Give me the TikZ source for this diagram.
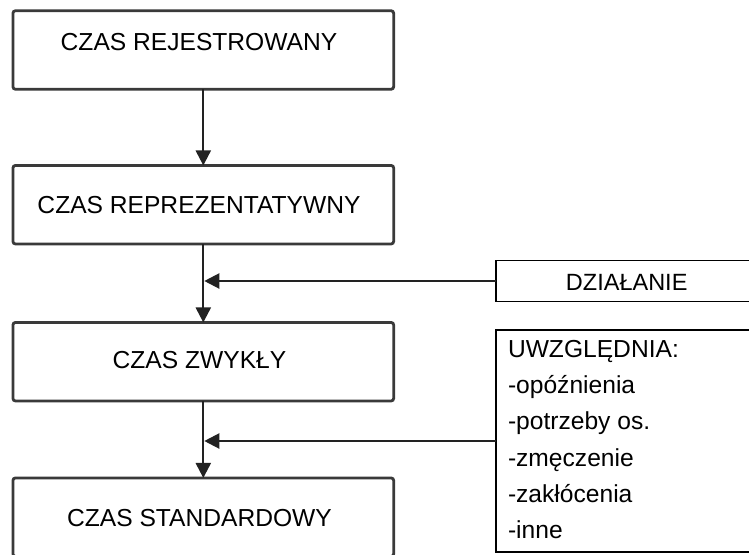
\documentclass[tikz,border=0pt]{standalone}
\usepackage{fontspec}
\setmainfont{Liberation Sans}
\usetikzlibrary{arrows.meta,calc}
\definecolor{boxgray}{HTML}{3A3A3A}
\definecolor{arrowgray}{HTML}{222222}
\begin{document}
\begin{tikzpicture}[x=1pt,y=-1pt,
  mainbox/.style={draw=boxgray, line width=2.8pt, rounded corners=2.5pt, minimum width=380.7pt, minimum height=78.5pt, inner sep=0pt, outer sep=0pt, fill=white},
  sidebox/.style={draw=black, line width=1.8pt, minimum width=264pt, inner sep=0pt, outer sep=0pt, fill=white},
  lbl/.style={inner sep=0pt, outer sep=0pt, font=\fontsize{24.6}{29}\selectfont, text=black},
  conn/.style={draw=arrowgray, line width=2.2pt, -{Triangle[length=15pt,width=15pt]}},
]
\useasboundingbox (0,0) rectangle (749,554);
\fill[white] (0,0) rectangle (749,554);
\clip (0,0) rectangle (749,554);

% main column
\node[mainbox] (b1) at (203.3,50) {};
\node[mainbox] (b2) at (203.3,204.7) {};
\node[mainbox] (b3) at (203.3,361.7) {};
\node[mainbox] (b4) at (203.3,517.2) {};

\node[lbl, anchor=base] (t1) at (199,50) {CZAS REJESTROWANY};
\node[lbl, anchor=base] (t2) at (199,213.5) {CZAS REPREZENTATYWNY};
\node[lbl, anchor=base] (t3) at (199.5,368) {CZAS ZWYKŁY};
\node[lbl, anchor=base] (t4) at (199.5,526) {CZAS STANDARDOWY};

% side boxes
\node[sidebox, minimum height=41pt] (dz) at (628,281) {};
\node[lbl, anchor=base, font=\fontsize{23.5}{28}\selectfont] (dzt) at (626.7,290) {DZIAŁANIE};

\node[sidebox, minimum height=222pt] (uw) at (628,441) {};
\node[lbl, anchor=base west] (l1) at (508,357.5) {UWZGLĘDNIA:};
\node[lbl, anchor=base west] (l2) at (508,393.7) {-opóźnienia};
\node[lbl, anchor=base west] (l3) at (508,429.9) {-potrzeby os.};
\node[lbl, anchor=base west] (l4) at (508,466.1) {-zmęczenie};
\node[lbl, anchor=base west] (l5) at (508,502.3) {-zakłócenia};
\node[lbl, anchor=base west] (l6) at (508,538.5) {-inne};

% connectors
\draw[conn] (b1.south) -- (b2.north);
\draw[conn] (b2.south) -- (b3.north);
\draw[conn] (b3.south) -- (b4.north);
\draw[conn, shorten >=1pt] (dz.west) -- (dz.west -| b2.south);
\draw[conn, shorten >=1pt] (uw.west) -- (uw.west -| b3.south);
\end{tikzpicture}
\end{document}
